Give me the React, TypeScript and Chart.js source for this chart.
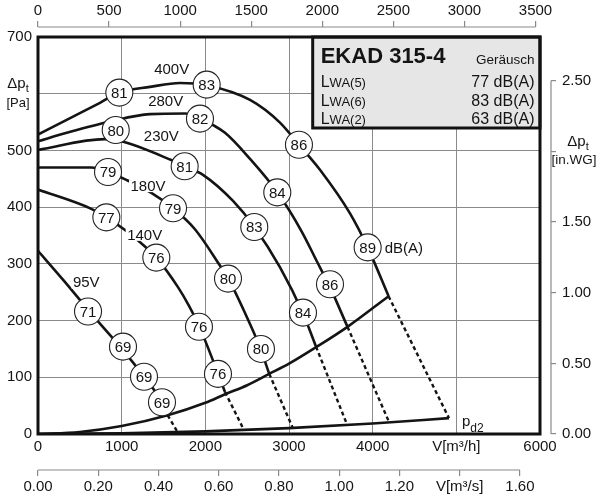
import React, { useEffect, useRef } from 'react';
import { Chart, registerables } from 'chart.js';

Chart.register(...registerables);

const FONT = '"Liberation Sans", Arial, Helvetica, sans-serif';
const INK = '#141414';
const GRID = '#8a8a8a';

// ---- axes ----
const FLOW_TICKS = [0, 1000, 2000, 3000, 4000, 5000, 6000];
const FLOW_LABELS = ['0', '1000', '2000', '3000', '4000', 'V[m³/h]', '6000'];
const DP_TICKS = [0, 100, 200, 300, 400, 500, 600, 700];
const DP_LABELS = ['0', '100', '200', '300', '400', '500', '', '700'];
const CFM_TICKS = [0, 500, 1000, 1500, 2000, 2500, 3000, 3500];
const CFM_LABELS = ['0', '500', '1000', '1500', '2000', '2500', '3000', '3500'];
const M3S_TICKS = [0, 0.2, 0.4, 0.6, 0.8, 1.0, 1.2, 1.4, 1.6];
const M3S_LABELS = ['0.00', '0.20', '0.40', '0.60', '0.80', '1.00', '1.20', 'V[m³/s]', '1.60'];
const INWG_TICKS = [0, 0.5, 1.0, 1.5, 2.0, 2.5];
const INWG_LABELS = ['0.00', '0.50', '1.00', '1.50', '', '2.50'];

const FLOW_MAX = 6000;
const DP_MAX = 700;
const M3H_PER_CFM = 1.699;
const M3H_PER_M3S = 3600;
const PA_PER_INWG = 249.09;

// ---- fan curves (V [m3/h], dpt [Pa]) ----
const V400_FLOW = [0, 343, 741, 972, 1339, 1697, 2016, 2534, 2892, 3119, 3370, 3729, 3940, 4190];
const V400_DP = [528, 554, 584, 602, 612, 619, 615, 589, 549, 510, 466, 389, 329, 243];
const V280_FLOW = [0, 343, 861, 1339, 1757, 1936, 2235, 2534, 2856, 3152, 3331, 3490, 3699];
const V280_DP = [516, 531, 551, 564, 565, 556, 531, 485, 427, 357, 305, 259, 189];
const V230_FLOW = [0, 797, 996, 1593, 1757, 1972, 2331, 2582, 2893, 3167, 3323];
const V230_DP = [501, 520, 516, 483, 472, 457, 411, 366, 294, 213, 154];
const V180_FLOW = [0, 637, 837, 1056, 1355, 1614, 1876, 2175, 2271, 2558, 2665, 2764];
const V180_DP = [470, 470, 462, 448, 425, 398, 361, 297, 275, 186, 148, 106];
const V140_FLOW = [0, 637, 817, 1036, 1275, 1414, 1673, 1805, 1924, 2016, 2148, 2235];
const V140_DP = [431, 397, 382, 360, 331, 311, 259, 226, 191, 158, 108, 74];
const V95_FLOW = [0, 311, 621, 1016, 1267, 1482, 1550];
const V95_DP = [323, 270, 215, 148, 101, 56, 33];

// dashed continuations (from solid end to pd2 curve)
const DASH_FROM_FLOW = [1550, 2235, 2764, 3323, 3699, 4190];
const DASH_FROM_DP = [33, 74, 106, 154, 189, 243];
const DASH_TO_FLOW = [1670, 2462, 3044, 3697, 4199, 4912];
const DASH_TO_DP = [3, 7, 11, 15.5, 20, 28];

// system line and dynamic pressure pd2
const SYS_FLOW = [0, 500, 1000, 1550, 2000, 2235, 2500, 2764, 3000, 3323, 3699, 4190];
const SYS_DP = [0, 3.5, 14, 33, 55, 70, 86, 106, 124, 153, 189, 243];
const PD2_FLOW = [0, 1000, 2000, 3000, 4000, 4912];
const PD2_DP = [0, 1.2, 4.6, 10.4, 18.4, 28];

// sound power circles
const NOISE_FLOW = [972, 2016, 3119, 3940, 1936, 2860, 3490, 929, 1753, 2585, 3167, 837, 1614, 2271, 2665, 817, 1414, 1924, 2151, 598, 1016, 1267, 1482];
const NOISE_DP = [602, 616, 510, 329, 556, 426, 264, 536, 472, 365, 214, 462, 398, 274, 150, 382, 311, 189, 106, 216, 154, 101, 56];
const NOISE_DB = [81, 83, 86, 89, 82, 84, 86, 80, 81, 83, 84, 79, 79, 80, 80, 77, 76, 76, 76, 71, 69, 69, 69];
const DBA_INDEX = 3;

// speed labels
const SPEED_LABELS = ['400V', '280V', '230V', '180V', '140V', '95V'];
const SPEED_LABEL_FLOW = [1598, 1526, 1474, 1315, 1275, 577];
const SPEED_LABEL_DP = [644, 588, 526, 438, 352, 268];

// info box
const BOX_TITLE = 'EKAD 315-4';
const BOX_SUBTITLE = 'Geräusch';
const LWA_INDEX = ['(5)', '(6)', '(2)'];
const LWA_VALUES = ['77 dB(A)', '83 dB(A)', '63 dB(A)'];

const pts = (xs: number[], ys: number[]) => xs.map((x, i) => ({ x, y: ys[i] }));

const solidLine = (xs: number[], ys: number[]) => ({
  data: pts(xs, ys),
  borderColor: INK,
  borderWidth: 2.6,
  pointRadius: 0,
  cubicInterpolationMode: 'monotone',
  fill: false,
  order: 2,
  xAxisID: 'x',
  yAxisID: 'y',
});

const overlayPlugin = {
  id: 'overlay',
  afterDatasetsDraw(chart: any) {
    const ctx = chart.ctx as CanvasRenderingContext2D;
    const sx = chart.scales.x;
    const sy = chart.scales.y;
    const ca = chart.chartArea;
    ctx.save();

    // circle numbers
    ctx.fillStyle = INK;
    ctx.textAlign = 'center';
    ctx.textBaseline = 'alphabetic';
    ctx.font = `15px ${FONT}`;
    NOISE_DB.forEach((v, i) => {
      const px = sx.getPixelForValue(NOISE_FLOW[i]);
      const py = sy.getPixelForValue(NOISE_DP[i]);
      ctx.fillText(String(v), px, py + 5.5);
    });

    // dB(A) next to the 89 circle
    ctx.textAlign = 'left';
    ctx.fillText(
      'dB(A)',
      sx.getPixelForValue(NOISE_FLOW[DBA_INDEX]) + 17,
      sy.getPixelForValue(NOISE_DP[DBA_INDEX]) + 5.5
    );

    // speed labels with white background
    ctx.textAlign = 'center';
    SPEED_LABELS.forEach((t, i) => {
      const px = sx.getPixelForValue(SPEED_LABEL_FLOW[i]);
      const py = sy.getPixelForValue(SPEED_LABEL_DP[i]);
      const w = ctx.measureText(t).width;
      ctx.fillStyle = '#ffffff';
      ctx.fillRect(px - w / 2 - 1.5, py - 5.5, w + 3, 12);
      ctx.fillStyle = INK;
      ctx.fillText(t, px, py + 5.4);
    });

    // pd2 label near end of pd2 curve
    const ex = sx.getPixelForValue(PD2_FLOW[PD2_FLOW.length - 1]);
    const ey = sy.getPixelForValue(PD2_DP[PD2_DP.length - 1]);
    ctx.textAlign = 'left';
    ctx.font = `15px ${FONT}`;
    ctx.fillText('p', ex + 13, ey + 8);
    const pw = ctx.measureText('p').width;
    ctx.font = `12px ${FONT}`;
    ctx.fillText('d2', ex + 13 + pw, ey + 13.5);

    // info box
    const bw = 227.3;
    const bh = 91;
    const bl = ca.right - bw;
    const bt = ca.top;
    ctx.fillStyle = '#e6e6e6';
    ctx.fillRect(bl, bt, bw, bh);
    ctx.lineWidth = 3;
    ctx.strokeStyle = '#111';
    ctx.strokeRect(bl, bt, bw, bh);
    ctx.fillStyle = INK;
    ctx.font = `bold 22px ${FONT}`;
    ctx.textAlign = 'left';
    ctx.fillText(BOX_TITLE, bl + 8, bt + 26.3);
    ctx.font = `13.5px ${FONT}`;
    ctx.textAlign = 'right';
    ctx.fillText(BOX_SUBTITLE, ca.right - 5.5, bt + 27);
    LWA_INDEX.forEach((idx, i) => {
      const base = bt + 50.3 + i * 18.4;
      ctx.textAlign = 'left';
      ctx.font = `16px ${FONT}`;
      ctx.fillText('L', bl + 8, base);
      const lw = ctx.measureText('L').width;
      ctx.font = `13px ${FONT}`;
      ctx.fillText('WA' + idx, bl + 8 + lw, base);
      ctx.font = `16px ${FONT}`;
      ctx.textAlign = 'right';
      ctx.fillText(LWA_VALUES[i], ca.right - 5.5, base);
    });

    // plot frame
    ctx.lineWidth = 3;
    ctx.strokeStyle = '#111';
    ctx.strokeRect(ca.left, ca.top, ca.right - ca.left, ca.bottom - ca.top);

    // secondary axis lines
    ctx.strokeStyle = GRID;
    ctx.lineWidth = 1.2;
    const top = chart.scales.xTop;
    const sec = chart.scales.xSec;
    const right = chart.scales.yRight;
    ctx.beginPath();
    ctx.moveTo(top.getPixelForValue(CFM_TICKS[0]), top.bottom);
    ctx.lineTo(top.getPixelForValue(CFM_TICKS[CFM_TICKS.length - 1]), top.bottom);
    ctx.moveTo(sec.getPixelForValue(M3S_TICKS[0]), sec.top);
    ctx.lineTo(sec.getPixelForValue(M3S_TICKS[M3S_TICKS.length - 1]), sec.top);
    ctx.moveTo(right.left, right.getPixelForValue(INWG_TICKS[0]));
    ctx.lineTo(right.left, right.getPixelForValue(INWG_TICKS[INWG_TICKS.length - 1]));
    ctx.stroke();

    // axis titles
    ctx.fillStyle = INK;
    const drawDpt = (cx: number, base: number) => {
      ctx.font = `15px ${FONT}`;
      const w1 = ctx.measureText('Δp').width;
      ctx.font = `11px ${FONT}`;
      const w2 = ctx.measureText('t').width;
      const x0 = cx - (w1 + w2) / 2;
      ctx.textAlign = 'left';
      ctx.font = `15px ${FONT}`;
      ctx.fillText('Δp', x0, base);
      ctx.font = `11px ${FONT}`;
      ctx.fillText('t', x0 + w1, base + 3.5);
    };
    const y600 = sy.getPixelForValue(DP_TICKS[6]);
    drawDpt(18, y600 - 5.3);
    ctx.font = `13px ${FONT}`;
    ctx.textAlign = 'center';
    ctx.fillText('[Pa]', 18, y600 + 12.8);

    const y2 = right.getPixelForValue(INWG_TICKS[4]);
    drawDpt(right.left + 27, y2 - 5.4);
    ctx.font = `13.5px ${FONT}`;
    ctx.textAlign = 'center';
    ctx.fillText('[in.WG]', right.left + 23, y2 + 12.6);

    ctx.restore();
  },
};

const tickFont = { family: FONT, size: 15 };

const setTicks = (values: number[]) => (axis: any) => {
  axis.ticks = values.map((v) => ({ value: v }));
};

export default function App() {
  const canvasRef = useRef<HTMLCanvasElement | null>(null);

  useEffect(() => {
    if (!canvasRef.current) return;
    Chart.defaults.font.family = FONT;

    const datasets: any[] = [
      {
        data: pts(NOISE_FLOW, NOISE_DP),
        showLine: false,
        pointRadius: 13.5,
        pointHoverRadius: 13.5,
        pointBackgroundColor: '#ffffff',
        pointBorderColor: '#222222',
        pointBorderWidth: 1.1,
        order: 0,
        xAxisID: 'x',
        yAxisID: 'y',
      },
      solidLine(V400_FLOW, V400_DP),
      solidLine(V280_FLOW, V280_DP),
      solidLine(V230_FLOW, V230_DP),
      solidLine(V180_FLOW, V180_DP),
      solidLine(V140_FLOW, V140_DP),
      solidLine(V95_FLOW, V95_DP),
      solidLine(SYS_FLOW, SYS_DP),
      solidLine(PD2_FLOW, PD2_DP),
      ...DASH_FROM_FLOW.map((fx, i) => ({
        data: [
          { x: fx, y: DASH_FROM_DP[i] },
          { x: DASH_TO_FLOW[i], y: DASH_TO_DP[i] },
        ],
        borderColor: INK,
        borderWidth: 2.4,
        borderDash: [4, 3],
        pointRadius: 0,
        fill: false,
        order: 3,
        xAxisID: 'x',
        yAxisID: 'y',
      })),
    ];

    const chart = new Chart(canvasRef.current, {
      type: 'line',
      data: { datasets },
      plugins: [overlayPlugin],
      options: {
        responsive: false,
        animation: false,
        events: [],
        layout: { padding: 0 },
        plugins: {
          legend: { display: false },
          tooltip: { enabled: false },
          title: { display: false },
        },
        scales: {
          x: {
            type: 'linear',
            axis: 'x',
            position: 'bottom',
            weight: 0,
            min: 0,
            max: FLOW_MAX,
            afterBuildTicks: setTicks(FLOW_TICKS),
            afterFit: (s: any) => {
              s.height = 36;
            },
            grid: { color: GRID, lineWidth: 1, drawTicks: false },
            border: { display: false },
            ticks: {
              font: tickFont,
              color: INK,
              padding: 4,
              maxRotation: 0,
              autoSkip: false,
              callback: (_v: any, i: number) => FLOW_LABELS[i],
            },
          },
          xSec: {
            type: 'linear',
            axis: 'x',
            position: 'bottom',
            weight: 1,
            min: 0,
            max: FLOW_MAX / M3H_PER_M3S,
            afterBuildTicks: setTicks(M3S_TICKS),
            afterFit: (s: any) => {
              s.height = 30;
            },
            grid: { drawOnChartArea: false, drawTicks: true, tickLength: 6, color: GRID, lineWidth: 1.2 },
            border: { display: false },
            ticks: {
              font: tickFont,
              color: INK,
              padding: 2,
              maxRotation: 0,
              autoSkip: false,
              callback: (_v: any, i: number) => M3S_LABELS[i],
            },
          },
          xGap: {
            type: 'linear',
            axis: 'x',
            position: 'top',
            weight: 0,
            afterFit: (s: any) => {
              s.height = 10;
            },
            grid: { display: false },
            border: { display: false },
            ticks: { display: false },
          },
          xTop: {
            type: 'linear',
            axis: 'x',
            position: 'top',
            weight: 1,
            min: 0,
            max: FLOW_MAX / M3H_PER_CFM,
            afterBuildTicks: setTicks(CFM_TICKS),
            afterFit: (s: any) => {
              s.height = 27;
            },
            grid: { drawOnChartArea: false, drawTicks: true, tickLength: 6, color: GRID, lineWidth: 1.2 },
            border: { display: false },
            ticks: {
              font: tickFont,
              color: INK,
              padding: 1,
              maxRotation: 0,
              autoSkip: false,
              callback: (_v: any, i: number) => CFM_LABELS[i],
            },
          },
          y: {
            type: 'linear',
            axis: 'y',
            position: 'left',
            min: 0,
            max: DP_MAX,
            afterBuildTicks: setTicks(DP_TICKS),
            afterFit: (s: any) => {
              s.width = 38;
            },
            grid: { color: GRID, lineWidth: 1, drawTicks: false },
            border: { display: false },
            ticks: {
              font: tickFont,
              color: INK,
              padding: 6,
              autoSkip: false,
              callback: (_v: any, i: number) => DP_LABELS[i],
            },
          },
          yGap: {
            type: 'linear',
            axis: 'y',
            position: 'right',
            weight: 0,
            afterFit: (s: any) => {
              s.width = 11;
            },
            grid: { display: false },
            border: { display: false },
            ticks: { display: false },
          },
          yRight: {
            type: 'linear',
            axis: 'y',
            position: 'right',
            weight: 1,
            min: 0,
            max: DP_MAX / PA_PER_INWG,
            afterBuildTicks: setTicks(INWG_TICKS),
            afterFit: (s: any) => {
              s.width = 49;
            },
            grid: { drawOnChartArea: false, drawTicks: true, tickLength: 5, color: GRID, lineWidth: 1.2 },
            border: { display: false },
            ticks: {
              font: tickFont,
              color: INK,
              padding: 6,
              autoSkip: false,
              callback: (_v: any, i: number) => INWG_LABELS[i],
            },
          },
        },
      } as any,
    });

    return () => {
      chart.destroy();
    };
  }, []);

  return (
    <div style={{ position: 'absolute', left: 0, top: 0, width: 600, height: 500, background: '#fff' }}>
      <canvas ref={canvasRef} width={600} height={500} style={{ width: 600, height: 500, display: 'block' }} />
    </div>
  );
}
